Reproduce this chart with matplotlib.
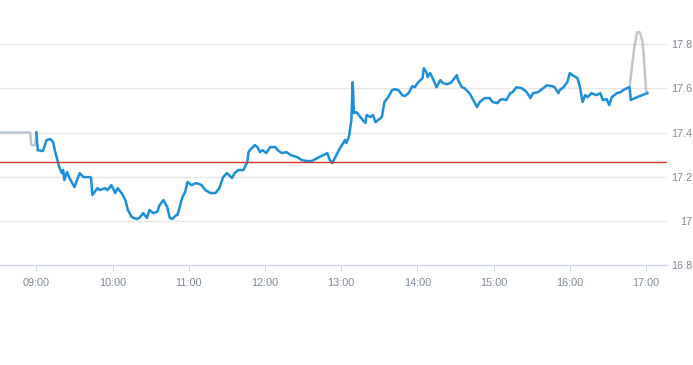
import matplotlib
matplotlib.use("Agg")
import matplotlib.pyplot as plt
from matplotlib.ticker import FuncFormatter, FixedLocator

# intraday price (regular session)
times = ["09:00", "09:01", "09:05", "09:08", "09:11", "09:13", "09:15", "09:17", "09:18", "09:20",
         "09:21", "09:22", "09:24", "09:26", "09:29", "09:30", "09:32", "09:34", "09:37", "09:40",
         "09:42", "09:43", "09:44", "09:48", "09:50", "09:54", "09:56", "09:59", "10:02", "10:04",
         "10:07", "10:10", "10:12", "10:15", "10:19", "10:21", "10:24", "10:27", "10:29", "10:32",
         "10:35", "10:37", "10:40", "10:43", "10:45", "10:47", "10:50", "10:51", "10:55", "10:57",
         "10:59", "11:02", "11:06", "11:10", "11:13", "11:17", "11:21", "11:24", "11:27", "11:30",
         "11:34", "11:36", "11:39", "11:43", "11:46", "11:47", "11:48", "11:52", "11:54", "11:56",
         "11:58", "12:01", "12:04", "12:08", "12:10", "12:13", "12:17", "12:20", "12:25", "12:29",
         "12:33", "12:37", "12:41", "12:46", "12:49", "12:51", "12:53", "12:57", "12:59", "13:03",
         "13:04", "13:06", "13:08", "13:09", "13:10", "13:12", "13:15", "13:17", "13:19", "13:20",
         "13:23", "13:25", "13:27", "13:29", "13:32", "13:34", "13:37", "13:40", "13:42", "13:45",
         "13:48", "13:50", "13:53", "13:56", "13:58", "14:00", "14:04", "14:05", "14:07", "14:08",
         "14:10", "14:12", "14:15", "14:18", "14:20", "14:23", "14:26", "14:28", "14:31", "14:32",
         "14:35", "14:37", "14:40", "14:41", "14:44", "14:47", "14:49", "14:53", "14:57", "14:59",
         "15:03", "15:05", "15:07", "15:10", "15:13", "15:15", "15:18", "15:22", "15:26", "15:29",
         "15:31", "15:35", "15:39", "15:42", "15:46", "15:48", "15:51", "15:52", "15:55", "15:58",
         "16:00", "16:02", "16:06", "16:08", "16:10", "16:12", "16:14", "16:17", "16:21", "16:24",
         "16:26", "16:29", "16:31", "16:33", "16:37", "16:40", "16:42", "16:45", "16:47", "16:48",
         "16:55", "17:01"]
prices = [17.40, 17.32, 17.316, 17.366, 17.37, 17.357, 17.307, 17.266, 17.243, 17.216,
          17.23, 17.185, 17.221, 17.194, 17.162, 17.153, 17.185, 17.216, 17.198, 17.198,
          17.198, 17.194, 17.117, 17.148, 17.139, 17.148, 17.139, 17.162, 17.126, 17.148,
          17.126, 17.094, 17.049, 17.017, 17.008, 17.013, 17.035, 17.013, 17.049, 17.035,
          17.04, 17.071, 17.094, 17.062, 17.013, 17.008, 17.026, 17.026, 17.108, 17.13,
          17.176, 17.162, 17.171, 17.162, 17.139, 17.126, 17.126, 17.148, 17.198, 17.216,
          17.194, 17.216, 17.23, 17.23, 17.266, 17.311, 17.32, 17.343, 17.334, 17.311,
          17.32, 17.307, 17.334, 17.334, 17.32, 17.307, 17.311, 17.298, 17.289, 17.275,
          17.271, 17.271, 17.284, 17.298, 17.307, 17.275, 17.262, 17.307, 17.329, 17.366,
          17.352, 17.379, 17.456, 17.628, 17.488, 17.492, 17.47, 17.456, 17.443, 17.479,
          17.47, 17.479, 17.447, 17.456, 17.47, 17.538, 17.56, 17.592, 17.596, 17.592,
          17.569, 17.565, 17.578, 17.61, 17.605, 17.624, 17.646, 17.691, 17.673, 17.651,
          17.669, 17.646, 17.605, 17.637, 17.624, 17.619, 17.624, 17.637, 17.66, 17.637,
          17.605, 17.601, 17.583, 17.578, 17.547, 17.515, 17.538, 17.556, 17.556, 17.538,
          17.533, 17.547, 17.551, 17.547, 17.578, 17.583, 17.605, 17.601, 17.583, 17.556,
          17.578, 17.583, 17.601, 17.614, 17.61, 17.605, 17.578, 17.592, 17.605, 17.628,
          17.669, 17.66, 17.646, 17.605, 17.538, 17.569, 17.56, 17.578, 17.569, 17.578,
          17.547, 17.551, 17.524, 17.56, 17.578, 17.583, 17.592, 17.601, 17.605, 17.547,
          17.565, 17.578]

# pre- and post-market
pre_times = ["08:31", "08:55", "08:56", "08:59", "09:00"]
pre_prices = [17.40, 17.40, 17.343, 17.343, 17.40]
post_times = ["16:47", "16:51", "16:53", "16:55", "16:57", "16:58", "17:00", "17:01"]
post_prices = [17.605, 17.795, 17.854, 17.854, 17.818, 17.764, 17.592, 17.578]

prev_close = 17.268
yticks = [16.8, 17.0, 17.2, 17.4, 17.6, 17.8]
xtick_labels = ["09:00", "10:00", "11:00", "12:00", "13:00", "14:00", "15:00", "16:00", "17:00"]


def to_min(t):
    h, m = t.split(":")
    return int(h) * 60 + int(m)


fig = plt.figure(figsize=(6.93, 3.65), dpi=100)
ax = fig.add_axes([0, 265 / 365 * 0 + 100 / 365, 667 / 693, 265 / 365])

ax.plot([to_min(t) for t in pre_times], pre_prices, color="#bcc6cf", lw=1.8)
ax.plot([to_min(t) for t in post_times], post_prices, color="#bcc6cf", lw=1.8)
ax.plot([to_min(t) for t in times], prices, color="#1b8fdc", lw=1.8, solid_joinstyle="round")
ax.axhline(prev_close, color="#d33a2c", lw=1)

ax.set_xlim(to_min("08:31") + 0.3, to_min("17:16") + 0.5)
ax.set_ylim(16.8, 18.0)

ax.yaxis.set_major_locator(FixedLocator(yticks))
ax.yaxis.set_major_formatter(FuncFormatter(lambda v, p: "%g" % round(v, 1)))
ax.yaxis.tick_right()
ax.grid(axis="y", color="#e6e6e6", lw=1)
ax.set_axisbelow(True)

ax.set_xticks([to_min(t) for t in xtick_labels])
ax.set_xticklabels(xtick_labels)

for s in ["top", "left", "right"]:
    ax.spines[s].set_visible(False)
ax.spines["bottom"].set_color("#ccd6eb")
ax.spines["bottom"].set_linewidth(1)

ax.tick_params(axis="x", length=4, color="#ccd6eb", pad=5, labelsize=7.8, labelcolor="#7e8a97")
ax.tick_params(axis="y", length=0, pad=18.5, labelsize=7.8, labelcolor="#7e8a97")
for lab in ax.get_yticklabels():
    lab.set_horizontalalignment("right")
for lab in ax.get_xticklabels() + ax.get_yticklabels():
    lab.set_family("Liberation Sans")

fig.savefig("out.png", dpi=100)
